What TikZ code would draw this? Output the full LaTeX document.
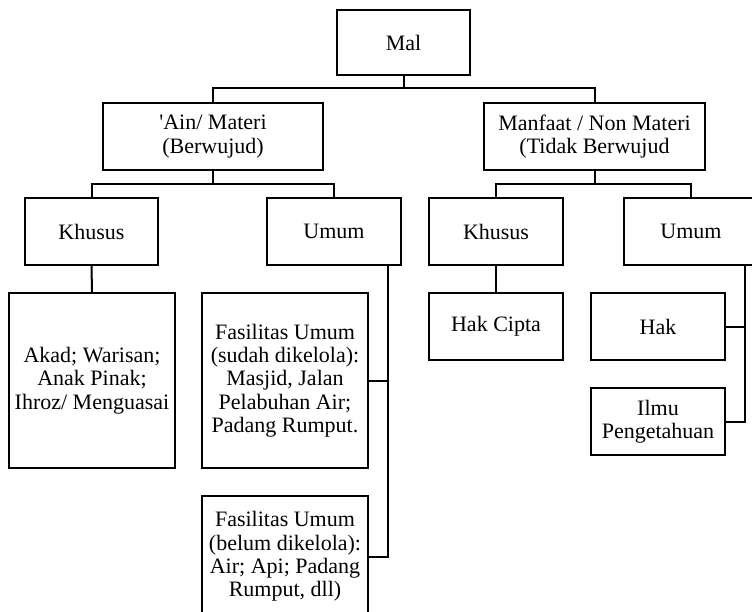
\documentclass[tikz,border=0pt]{standalone}
\usepackage{fontspec}
\setmainfont{Liberation Serif}[Ligatures=TeXOff]
\begin{document}
\begin{tikzpicture}[x=1pt,y=-1pt,
  box/.style={draw,line width=2pt,inner sep=0pt,align=center,
    font=\fontsize{22}{23.3}\selectfont},
  conn/.style={line width=2pt}]
\useasboundingbox (0,0) rectangle (752,611);
\clip (0,0) rectangle (752,611);
\fill[white] (0,0) rectangle (752,611);
% level 1
\node[box,minimum width=133pt,minimum height=65pt] (mal) at (403.5,42.5) {Mal};
% level 2
\node[box,minimum width=220pt,minimum height=67pt] (ain) at (213,136.5) {'Ain/ Materi\\(Berwujud)};
\node[box,minimum width=221pt,minimum height=67pt] (man) at (594.5,136.5) {Manfaat / Non Materi\\(Tidak Berwujud};
% level 3
\node[box,minimum width=133pt,minimum height=67pt] (k1) at (91.5,231.5) {Khusus};
\node[box,minimum width=134pt,minimum height=67pt] (u1) at (334,231.5) {Umum};
\node[box,minimum width=134pt,minimum height=67pt] (k2) at (496,231.5) {Khusus};
\node[box,minimum width=134pt,minimum height=67pt] (u2) at (691,231.5) {Umum};
% level 4
\node[box,minimum width=166pt,minimum height=175pt] (akad) at (92,380.5) {Akad; Warisan;\\Anak Pinak;\\Ihroz/ Menguasai};
\node[box,minimum width=166pt,minimum height=175pt] (fas1) at (285,380.5) {Fasilitas Umum\\(sudah dikelola):\\Masjid, Jalan\\Pelabuhan Air;\\Padang Rumput.};
\node[box,minimum width=166pt,minimum height=121pt] (fas2) at (285,556.5) {Fasilitas Umum\\(belum dikelola):\\Air; Api; Padang\\Rumput, dll)};
\node[box,minimum width=134pt,minimum height=67pt] (hc) at (496,326.5) {Hak Cipta};
\node[box,minimum width=134pt,minimum height=67pt] (hak) at (658,326.5) {Hak};
\node[box,minimum width=134pt,minimum height=67pt] (ilmu) at (658,421.5) {Ilmu\\Pengetahuan};
% junctions
\coordinate (j1) at (403.5,88);
\coordinate (j2) at (213,184);
\coordinate (j3) at (594.5,184);
\coordinate (u1d) at (387.5,265);
\coordinate (u2d) at (745,265);
% connectors
\draw[conn] (mal.south) -- (j1);
\draw[conn] (ain.north) |- (j1) -| (man.north);
\draw[conn] (ain.south) -- (j2);
\draw[conn] (k1.north) |- (j2) -| (u1.north);
\draw[conn] (man.south) -- (j3);
\draw[conn] (k2.north) |- (j3) -| (u2.north);
\draw[conn] (k1.south) -- (akad.north);
\draw[conn] (fas1.east) -| (u1d);
\draw[conn] (fas2.east) -| (u1d);
\draw[conn] (k2.south) -- (hc.north);
\draw[conn] (hak.east) -| (u2d);
\draw[conn] (ilmu.east) -| (u2d);
\end{tikzpicture}
\end{document}
